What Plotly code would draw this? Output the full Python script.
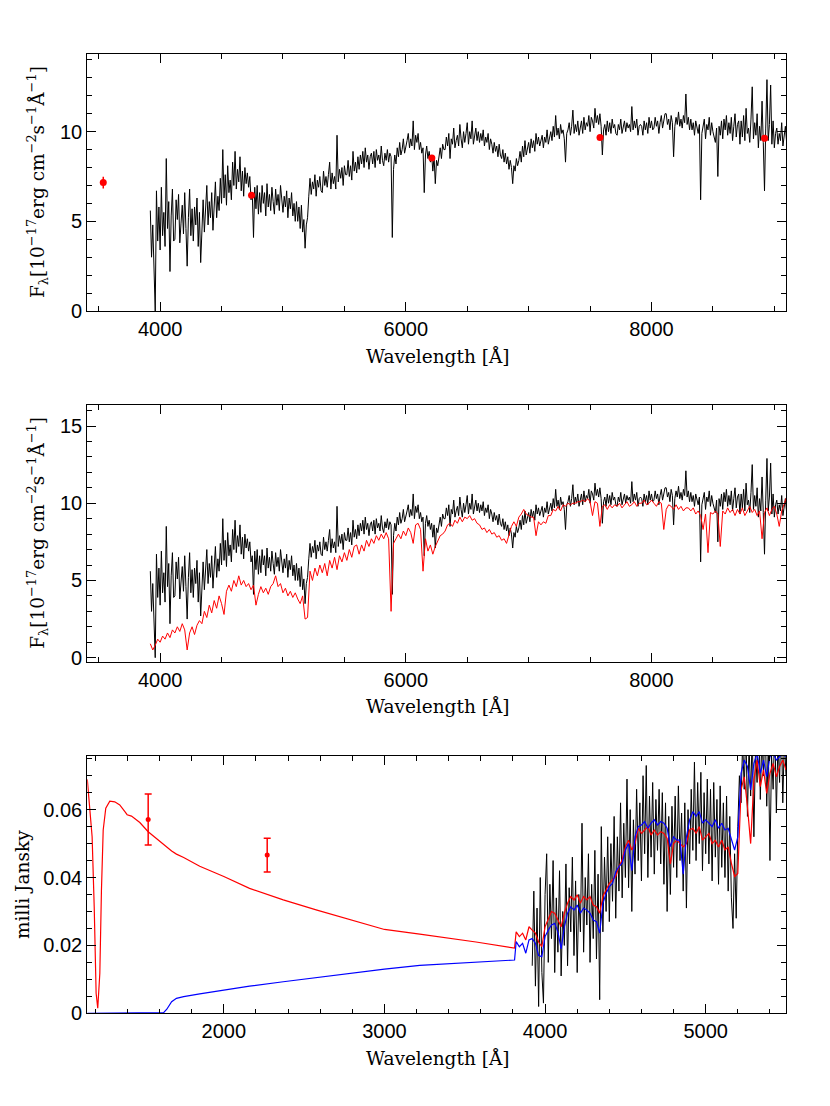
import numpy as np
import plotly.graph_objects as go

# ---------------- data ----------------
# observed optical spectrum, F_lambda [1e-17 erg/cm2/s/A], sampled every 10 A from 3920 A
OBS_START = 3920
OBS_STEP = 10
OBS_FLUX = [
    5.6, 3.0, 4.8, 2.9, 0.0, 6.7, 3.9, 5.8, 3.4, 6.9,
    4.2, 5.5, 3.6, 8.5, 4.6, 6.1, 2.2, 5.3, 6.8, 3.9,
    4.0, 6.2, 5.1, 6.5, 3.8, 4.9, 5.9, 4.3, 6.6, 4.6,
    2.5, 5.2, 6.8, 4.2, 5.7, 3.9, 5.8, 4.8, 6.3, 3.6,
    5.5, 2.7, 4.9, 6.2, 4.4, 5.6, 7.0, 4.8, 6.1, 5.2,
    6.6, 4.5, 5.9, 7.2, 5.2, 6.4, 5.6, 7.4, 6.0, 9.0,
    6.3, 7.6, 5.9, 8.1, 6.6, 7.3, 6.2, 8.3, 7.0, 8.9,
    6.8, 7.9, 7.2, 8.6, 6.7, 7.8, 6.4, 8.0, 7.1, 7.7,
    6.9, 7.5, 6.2, 6.6, 4.1, 6.9, 5.7, 7.0, 5.4, 6.6,
    5.5, 7.0, 6.0, 6.6, 5.3, 7.1, 5.8, 6.5, 5.6, 6.9,
    6.1, 5.4, 6.8, 5.9, 6.5, 5.6, 7.0, 6.2, 5.5, 6.4,
    5.8, 6.7, 5.2, 6.3, 5.7, 6.6, 5.3, 6.0, 5.0, 6.1,
    5.0, 5.8, 4.6, 5.9, 4.4, 5.1, 3.5, 4.8, 5.2, 6.4,
    7.4, 6.5, 7.2, 6.8, 7.6, 6.4, 7.3, 6.9, 7.5, 6.7,
    6.6, 7.8, 7.0, 7.5, 6.9, 7.6, 8.3, 6.8, 7.7, 7.1,
    7.5, 6.8, 9.8, 7.2, 7.9, 7.4, 8.0, 7.0, 8.1, 7.6,
    7.6, 8.4, 7.5, 8.1, 7.3, 8.9, 7.8, 8.3, 7.7, 8.6,
    7.9, 8.7, 8.2, 8.9, 8.0, 9.1, 8.3, 8.7, 7.9, 8.6,
    8.8, 8.2, 8.9, 8.0, 9.0, 8.4, 8.7, 8.2, 9.2, 8.4,
    8.1, 8.8, 8.4, 9.0, 8.3, 8.8, 8.6, 4.1, 7.9, 8.7,
    8.2, 9.1, 8.6, 9.4, 8.7, 9.0, 9.6, 8.8, 9.3, 9.5,
    9.9, 9.1, 9.6, 9.2, 10.6, 9.0, 9.8, 9.4, 9.9, 9.0,
    9.4, 8.8, 9.1, 6.6, 8.7, 9.2, 8.5, 8.9, 8.3, 8.7,
    7.8, 8.6, 7.1, 8.4, 8.1, 8.7, 9.1, 8.5, 9.3, 9.0,
    9.0, 9.7, 9.2, 9.9, 8.5, 9.6, 9.3, 10.2, 9.1, 9.5,
    9.8, 9.2, 10.4, 9.6, 9.1, 10.0, 9.4, 9.9, 10.5, 9.3,
    10.0, 9.6, 10.6, 9.3, 9.8, 10.2, 9.5, 10.0, 9.4, 9.9,
    9.5, 10.1, 9.2, 9.7, 9.4, 9.9, 9.0, 9.6, 9.3, 8.8,
    9.4, 8.9, 9.2, 8.6, 9.3, 8.7, 8.5, 9.0, 8.3, 8.8,
    8.2, 8.6, 7.9, 8.4, 8.0, 7.1, 8.1, 7.8, 8.5, 8.1,
    8.4, 8.9, 8.3, 9.2, 8.6, 9.5, 8.7, 9.0, 9.4, 8.8,
    9.6, 9.1, 9.5, 8.9, 9.9, 9.3, 9.7, 9.2, 9.5, 9.8,
    9.1, 9.7, 9.4, 10.1, 9.3, 9.8, 10.0, 9.5, 10.3, 9.7,
    10.9, 9.8, 10.2, 9.6, 10.4, 9.9, 10.1, 9.6, 8.3, 9.9,
    10.1, 10.5, 9.8, 10.3, 11.2, 9.9, 10.4, 10.0, 10.6, 9.8,
    10.2, 10.6, 9.9, 10.8, 10.1, 10.5, 10.3, 10.9, 10.0, 10.8,
    10.6, 10.2, 11.3, 10.5, 10.9, 10.4, 11.0, 10.3, 8.7, 10.1,
    10.4, 9.8, 10.6, 10.0, 10.5, 9.9, 10.7, 10.2, 10.4, 9.9,
    9.8, 10.4, 10.1, 10.7, 9.9, 10.3, 10.6, 10.0, 10.5, 10.2,
    10.4, 10.0, 11.4, 10.1, 10.6, 10.2, 10.7, 9.8, 10.3, 10.4,
    10.3, 9.8, 10.6, 10.1, 10.5, 9.9, 10.8, 10.2, 10.6, 10.1,
    10.2, 10.8, 10.3, 10.6, 9.9, 10.5, 10.9, 10.2, 10.7, 11.0,
    11.0, 10.4, 10.7, 10.1, 10.9, 10.5, 8.6, 10.3, 10.8, 10.4,
    11.1, 10.3, 10.7, 10.2, 10.9, 10.5, 12.1, 10.4, 10.8, 10.1,
    10.7, 10.1, 10.5, 9.8, 10.6, 10.2, 9.9, 10.4, 6.2, 9.9,
    10.3, 10.7, 9.6, 10.4, 10.1, 10.8, 9.8, 10.5, 10.0, 9.7,
    9.4, 10.2, 7.5, 10.3, 9.8, 10.6, 9.6, 10.7, 10.1, 10.9,
    9.8, 10.5, 9.9, 10.8, 9.5, 10.3, 11.0, 9.7, 10.4, 10.6,
    9.3, 10.6, 9.7, 10.9, 9.5, 11.3, 9.9, 10.2, 9.4, 10.7,
    12.5, 9.6, 10.5, 9.8, 11.0, 9.1, 10.3, 9.5, 11.7, 9.4,
    6.7, 10.2, 12.9, 9.5, 10.4, 12.6, 9.3, 10.6, 9.1, 9.9,
    10.2, 9.3, 9.9, 9.5, 10.5, 9.2, 9.8, 10.3, 9.4, 9.7,
]
# stellar model spectrum (red, middle panel), every 20 A from 3920 A
MODEL_START = 3920
MODEL_STEP = 20
MODEL_FLUX = [
    0.9, 0.5, 0.8, 1.2, 1.0, 1.4, 1.2, 1.6, 1.3, 1.8,
    1.6, 2.0, 1.7, 2.2, 1.8, 0.5, 1.6, 2.0, 1.5, 2.1,
    2.4, 2.2, 3.0, 2.6, 3.4, 2.9, 3.7, 3.2, 4.0, 3.5,
    2.8, 4.3, 4.7, 4.3, 5.0, 4.6, 5.3, 4.7, 5.0, 4.6,
    4.8, 4.4, 4.7, 3.4, 4.1, 4.6, 4.2, 4.5, 4.1, 4.6,
    4.8, 5.3, 4.6, 4.8, 4.2, 4.5, 4.0, 4.3, 3.9, 4.2,
    3.8, 3.5, 4.0, 2.5, 2.6, 5.6, 5.0, 5.8, 5.3, 6.0,
    5.5, 6.1, 5.3, 6.3, 5.8, 6.5, 5.7, 6.6, 6.2, 6.8,
    6.3, 7.0, 6.5, 7.2, 7.3, 6.7, 7.3, 6.9, 7.6, 7.2,
    7.7, 7.4, 7.9, 7.6, 8.0, 7.7, 8.1, 7.7, 3.0, 7.4,
    7.7, 8.0, 7.7, 8.2, 7.9, 8.4, 8.1, 7.4, 8.6, 8.7,
    8.3, 5.6, 7.7, 6.9, 7.3, 6.7, 7.2, 7.5, 7.9, 8.0,
    8.2, 8.6, 8.7, 8.5, 8.9, 8.7, 9.1, 8.8, 9.1, 9.0,
    9.2, 8.9, 9.0, 8.7, 8.6, 8.3, 8.4, 8.1, 8.3, 8.0,
    8.1, 7.8, 7.9, 7.6, 7.7, 7.4, 7.9, 8.5, 8.8, 8.5,
    9.1, 9.3, 9.6, 9.3, 9.2, 9.1, 9.1, 7.9, 8.8, 8.6,
    8.8, 8.7, 9.2, 9.2, 9.6, 9.5, 9.8, 9.5, 9.9, 9.8,
    10.0, 9.9, 10.0, 10.0, 10.1, 10.1, 10.2, 10.1, 10.3, 10.1,
    9.2, 10.1, 10.0, 8.5, 9.8, 9.9, 9.6, 9.9, 9.7, 9.9,
    9.8, 10.0, 9.7, 9.9, 10.1, 9.8, 9.9, 10.1, 9.8, 10.0,
    10.0, 10.2, 9.9, 10.0, 10.2, 10.0, 9.8, 10.1, 10.0, 8.3,
    9.6, 9.9, 9.8, 9.6, 9.9, 9.6, 9.8, 9.5, 9.7, 9.7,
    9.5, 9.7, 9.3, 9.5, 9.2, 8.3, 9.3, 6.8, 9.4, 9.3,
    9.5, 9.3, 7.2, 9.5, 9.3, 9.7, 9.4, 9.6, 9.2, 9.6,
    9.3, 9.7, 9.2, 9.5, 9.8, 9.4, 9.6, 9.2, 9.5, 7.7,
    9.4, 9.7, 9.2, 9.6, 9.8, 9.3, 8.5, 9.5, 9.9, 10.4,
]
# broad-band photometry (top panel)
PHOT_WAVE = [3537, 4744, 6212, 7581, 8921]
PHOT_FLUX = [7.16, 6.45, 8.53, 9.67, 9.63]
PHOT_ERR = [0.33, 0.10, 0.10, 0.10, 0.10]

# bottom panel: UV part of the two models (milli Jansky)
UV_WAVE = [1150, 1166, 1180, 1193, 1205, 1215, 1228, 1238, 1249, 1265,
           1290, 1321, 1352, 1384, 1398, 1425, 1477, 1529, 1600, 1625,
           1645, 1675, 1705, 1750, 1850, 2000, 2160, 2370, 2580, 2790,
           3000, 3220, 3370, 3570, 3810]
UV_RED = [0.0689, 0.0609, 0.0520, 0.0314, 0.0059, 0.0015, 0.0118, 0.0360, 0.0540, 0.0604,
          0.0625, 0.0623, 0.0614, 0.0594, 0.0585, 0.0581, 0.0562, 0.0535, 0.0507, 0.0497,
          0.0489, 0.0478, 0.0469, 0.0459, 0.0433, 0.0403, 0.0368, 0.0334, 0.0304, 0.0275,
          0.0247, 0.0233, 0.0224, 0.0210, 0.0192]
UV_BLUE = [0.0, 0.0, 0.0, 0.0, 0.0, 0.0, 0.0, 0.0, 0.0, 0.0,
           0.0, 0.0, 0.0, 0.0, 0.0, 0.0, 0.0, 0.0, 0.0, 0.0002,
           0.0012, 0.0034, 0.0044, 0.0049, 0.0057, 0.0069, 0.0080, 0.0093, 0.0106, 0.0117,
           0.0130, 0.0141, 0.0145, 0.0150, 0.0157]
# bottom panel: optical part of the two models, every 20 A from 3820 A
OPT_START = 3820
OPT_STEP = 20
OPT_RED = [
    0.0240, 0.0226, 0.0236, 0.0216, 0.0255, 0.0245, 0.0236, 0.0210, 0.0196, 0.0255,
    0.0280, 0.0300, 0.0295, 0.0275, 0.0255, 0.0295, 0.0324, 0.0344, 0.0334, 0.0349,
    0.0324, 0.0344, 0.0334, 0.0344, 0.0319, 0.0314, 0.0295, 0.0344, 0.0363, 0.0383,
    0.0393, 0.0403, 0.0432, 0.0452, 0.0491, 0.0510, 0.0481, 0.0500, 0.0545, 0.0530,
    0.0540, 0.0550, 0.0525, 0.0540, 0.0525, 0.0535, 0.0530, 0.0515, 0.0440, 0.0500,
    0.0510, 0.0500, 0.0490, 0.0500, 0.0540, 0.0545, 0.0530, 0.0550, 0.0510, 0.0520,
    0.0530, 0.0500, 0.0510, 0.0490, 0.0510, 0.0481, 0.0490, 0.0442, 0.0403, 0.0412,
    0.0658, 0.0697, 0.0609, 0.0500, 0.0687, 0.0746, 0.0668, 0.0717, 0.0648, 0.0707,
    0.0736, 0.0697, 0.0727, 0.0746, 0.0717,
]
OPT_BLUE = [
    0.0211, 0.0196, 0.0206, 0.0177, 0.0216, 0.0220, 0.0206, 0.0170, 0.0167, 0.0226,
    0.0245, 0.0260, 0.0265, 0.0240, 0.0190, 0.0255, 0.0295, 0.0314, 0.0304, 0.0319,
    0.0295, 0.0310, 0.0304, 0.0295, 0.0275, 0.0270, 0.0236, 0.0324, 0.0353, 0.0373,
    0.0383, 0.0417, 0.0432, 0.0442, 0.0481, 0.0500, 0.0420, 0.0520, 0.0550, 0.0555,
    0.0565, 0.0545, 0.0560, 0.0570, 0.0555, 0.0565, 0.0560, 0.0545, 0.0491, 0.0520,
    0.0510, 0.0510, 0.0410, 0.0520, 0.0570, 0.0594, 0.0580, 0.0594, 0.0560, 0.0570,
    0.0560, 0.0550, 0.0570, 0.0545, 0.0560, 0.0540, 0.0545, 0.0510, 0.0481, 0.0520,
    0.0707, 0.0746, 0.0727, 0.0658, 0.0736, 0.0766, 0.0707, 0.0746, 0.0697, 0.0756,
    0.0766, 0.0746, 0.0756, 0.0766, 0.0756,
]
# bottom panel: observed spectrum in milli Jansky, every 10 A from 3920 A
MJY_START = 3920
MJY_STEP = 10
MJY_OBS = [
    0.014, 0.036, 0.008, 0.031, 0.002, 0.040, 0.012, 0.003, 0.035, 0.047,
    0.015, 0.038, 0.022, 0.045, 0.012, 0.034, 0.018, 0.042, 0.011, 0.030,
    0.020, 0.044, 0.014, 0.037, 0.024, 0.046, 0.017, 0.039, 0.012, 0.035,
    0.024, 0.056, 0.018, 0.040, 0.026, 0.047, 0.015, 0.038, 0.022, 0.048,
    0.016, 0.041, 0.004, 0.055, 0.024, 0.046, 0.030, 0.052, 0.027, 0.050,
    0.033, 0.058, 0.028, 0.052, 0.036, 0.062, 0.034, 0.056, 0.040, 0.069,
    0.037, 0.060, 0.030, 0.057, 0.041, 0.066, 0.045, 0.062, 0.039, 0.070,
    0.047, 0.073, 0.040, 0.064, 0.046, 0.068, 0.041, 0.063, 0.048, 0.066,
    0.044, 0.065, 0.038, 0.062, 0.030, 0.058, 0.035, 0.061, 0.043, 0.064,
    0.040, 0.067, 0.045, 0.059, 0.036, 0.062, 0.031, 0.060, 0.044, 0.066,
    0.048, 0.074, 0.045, 0.068, 0.050, 0.071, 0.042, 0.065, 0.047, 0.069,
    0.044, 0.066, 0.039, 0.068, 0.046, 0.063, 0.038, 0.067, 0.043, 0.062,
    0.040, 0.064, 0.036, 0.058, 0.034, 0.025, 0.047, 0.028, 0.055, 0.070,
    0.062, 0.080, 0.066, 0.085, 0.058, 0.079, 0.064, 0.083, 0.052, 0.078,
    0.068, 0.090, 0.063, 0.082, 0.070, 0.088, 0.061, 0.079, 0.045, 0.076,
    0.066, 0.086, 0.059, 0.080, 0.068, 0.089, 0.062, 0.081, 0.070,
]
# GALEX points
GALEX_WAVE = [1529, 2270]
GALEX_FLUX = [0.0571, 0.0466]
GALEX_ERR = [0.0075, 0.0050]

# ---------------- figure ----------------
PAGE_OFF = 8              # default page margin around the plot div
W, H = 830 - PAGE_OFF, 1106 - PAGE_OFF
obs_wave = OBS_START + OBS_STEP * np.arange(len(OBS_FLUX))
model_wave = MODEL_START + MODEL_STEP * np.arange(len(MODEL_FLUX))
opt_wave = OPT_START + OPT_STEP * np.arange(len(OPT_RED))
mjy_wave = MJY_START + MJY_STEP * np.arange(len(MJY_OBS))

BLACK, RED, BLUE = "#000000", "#ff0000", "#0000ff"
TICKFONT = dict(family="Liberation Sans, Arial, sans-serif", size=20, color="black")
TITLEFONT = dict(family="DejaVu Serif, serif", size=18.5, color="black")

fig = go.Figure()

# top panel
fig.add_trace(go.Scatter(x=obs_wave, y=OBS_FLUX, mode="lines",
                         line=dict(color=BLACK, width=1), xaxis="x", yaxis="y"))
fig.add_trace(go.Scatter(x=PHOT_WAVE, y=PHOT_FLUX, mode="markers",
                         marker=dict(color=RED, size=7),
                         error_y=dict(type="data", array=PHOT_ERR, color=RED, thickness=1.5, width=0),
                         xaxis="x", yaxis="y"))
# middle panel
fig.add_trace(go.Scatter(x=obs_wave, y=OBS_FLUX, mode="lines",
                         line=dict(color=BLACK, width=1), xaxis="x2", yaxis="y2"))
fig.add_trace(go.Scatter(x=model_wave, y=MODEL_FLUX, mode="lines",
                         line=dict(color=RED, width=1), xaxis="x2", yaxis="y2"))
# bottom panel
fig.add_trace(go.Scatter(x=mjy_wave, y=MJY_OBS, mode="lines",
                         line=dict(color=BLACK, width=1), xaxis="x3", yaxis="y3"))
fig.add_trace(go.Scatter(x=list(UV_WAVE) + list(opt_wave), y=UV_RED + OPT_RED, mode="lines",
                         line=dict(color=RED, width=1.2), xaxis="x3", yaxis="y3"))
fig.add_trace(go.Scatter(x=list(UV_WAVE) + list(opt_wave), y=UV_BLUE + OPT_BLUE, mode="lines",
                         line=dict(color=BLUE, width=1.2), xaxis="x3", yaxis="y3"))
fig.add_trace(go.Scatter(x=GALEX_WAVE, y=GALEX_FLUX, mode="markers",
                         marker=dict(color=RED, size=5),
                         error_y=dict(type="data", array=GALEX_ERR, color=RED, thickness=1.5, width=3.5),
                         xaxis="x3", yaxis="y3"))


def px_x(p):
    return (p - PAGE_OFF) / W


def px_y(p):
    return 1 - (p - PAGE_OFF) / H


XDOM = [px_x(87.3), px_x(786.0)]
PANELS = [(54.0, 311.0), (405.0, 661.7), (756.0, 1013.3)]


def axis(domain, anchor, rng, dtick, mdtick, tick0=0):
    return dict(domain=domain, anchor=anchor, range=rng, tickmode="linear", tick0=tick0,
                dtick=dtick, ticks="inside", ticklen=9, tickwidth=1.2, tickcolor="black",
                showline=True, linewidth=1.3, linecolor="black", mirror="allticks",
                showgrid=False, zeroline=False, tickfont=TICKFONT, automargin=False,
                minor=dict(ticks="inside", ticklen=4.5, tickwidth=1, tickcolor="black",
                           dtick=mdtick, tick0=tick0, showgrid=False))


ydoms = [[px_y(b), px_y(t)] for (t, b) in PANELS]

fig.update_layout(
    width=W, height=H, margin=dict(l=0, r=0, t=0, b=0),
    paper_bgcolor="white", plot_bgcolor="white", showlegend=False,
    xaxis=axis(XDOM, "y", [3407, 9095], 2000, 500),
    yaxis=axis(ydoms[0], "x", [0, 14.33], 5, 1),
    xaxis2=axis(XDOM, "y2", [3407, 9095], 2000, 500),
    yaxis2=axis(ydoms[1], "x2", [-0.26, 16.36], 5, 1),
    xaxis3=axis(XDOM, "y3", [1150, 5500], 1000, 200),
    yaxis3=axis(ydoms[2], "x3", [0, 0.0758], 0.02, 0.005),
)

ytitle = "F<sub>λ</sub>[10<sup>−17</sup>erg cm<sup>−2</sup>s<sup>−1</sup>Å<sup>−1</sup>]"
annots = []
for i, (t, b) in enumerate(PANELS):
    annots.append(dict(text="Wavelength [Å]", x=px_x(437), y=px_y(b + 45), xref="paper", yref="paper",
                       xanchor="center", yanchor="middle", showarrow=False, font=TITLEFONT))
annots.append(dict(text=ytitle, x=px_x(37.5), y=px_y(182.5), xref="paper", yref="paper",
                   xanchor="center", yanchor="middle", textangle=-90, showarrow=False, font=TITLEFONT))
annots.append(dict(text=ytitle, x=px_x(37.5), y=px_y(533.3), xref="paper", yref="paper",
                   xanchor="center", yanchor="middle", textangle=-90, showarrow=False, font=TITLEFONT))
annots.append(dict(text="milli Jansky", x=px_x(22), y=px_y(885), xref="paper", yref="paper",
                   xanchor="center", yanchor="middle", textangle=-90, showarrow=False, font=TITLEFONT))
fig.update_layout(annotations=annots)

fig.write_html("out.html")
